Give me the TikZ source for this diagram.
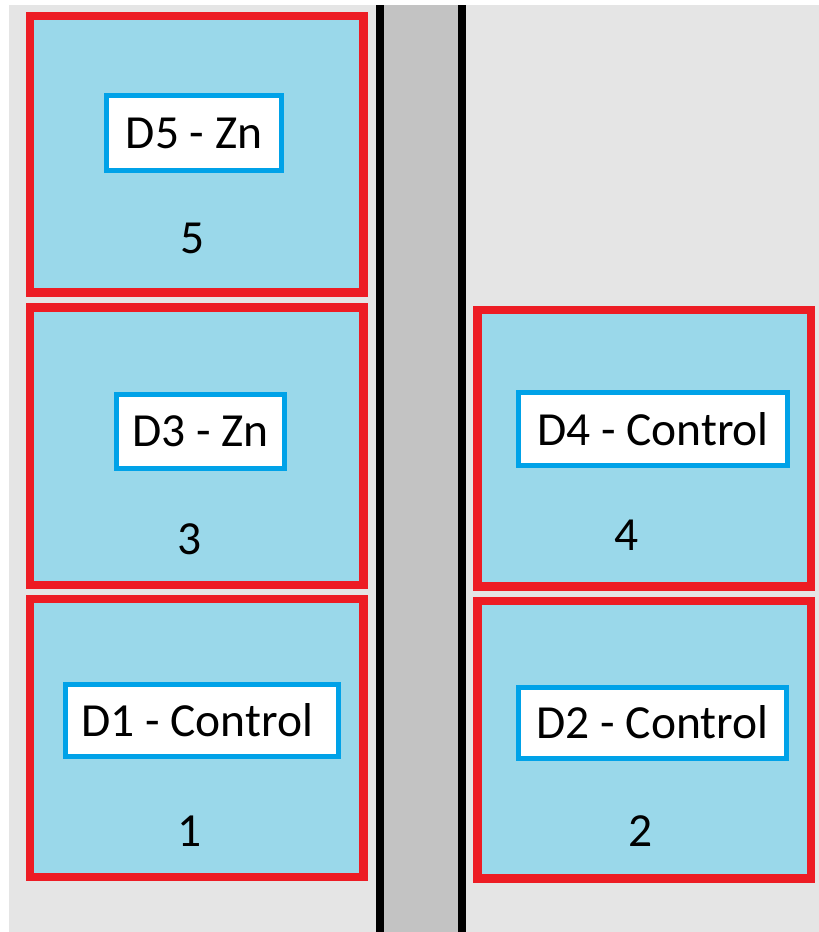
\documentclass[tikz,border=0pt]{standalone}
\usepackage{fontspec}
\setmainfont{Carlito}
\definecolor{bayred}{HTML}{ED1C24}
\definecolor{bayfill}{HTML}{9AD8EA}
\definecolor{tagblue}{HTML}{00A2E8}
\definecolor{floorgray}{HTML}{E5E5E5}
\definecolor{aislegray}{HTML}{C3C3C3}
\tikzset{
  bay/.style={draw=bayred, fill=bayfill, line width=8.5pt, inner sep=0pt, outer sep=0pt},
  tag/.style={draw=tagblue, fill=white, line width=5pt, inner sep=0pt,
    font=\fontsize{47.5}{52}\selectfont, text=black},
  num/.style={inner sep=0pt, font=\fontsize{47.5}{52}\selectfont, text=black},
  wall/.style={line width=8.3pt, draw=black}
}
\begin{document}
\begin{tikzpicture}[x=1pt, y=-1pt]
\useasboundingbox (0,0) rectangle (819,932);
\fill[white] (0,0) rectangle (819,932);
% floor
\fill[floorgray] (9,5) rectangle (819,932);
% aisle between the two walls
\fill[aislegray] (380,5) rectangle (462,932);
\coordinate (w1t) at (380.2,5);
\coordinate (w1b) at (380.2,932);
\coordinate (w2t) at (461.8,5);
\coordinate (w2b) at (461.8,932);
\draw[wall] (w1t) -- (w1b);
\draw[wall] (w2t) -- (w2b);
% bays
\node[bay, minimum width=333.7pt, minimum height=276.6pt] (b5) at (196.65,154.2) {};
\node[bay, minimum width=333.7pt, minimum height=277.3pt] (b3) at (196.65,446.15) {};
\node[bay, minimum width=333.7pt, minimum height=277.6pt] (b1) at (196.65,738) {};
\node[bay, minimum width=333.3pt, minimum height=276.6pt] (b4) at (644.15,448.2) {};
\node[bay, minimum width=333.3pt, minimum height=277.7pt] (b2) at (644.15,739.65) {};
% tags
\node[tag, minimum width=175.3pt, minimum height=74.4pt] (t5) at (194.15,133) {D5 - Zn};
\node[tag, minimum width=168.3pt, minimum height=74pt] (t3) at (200.65,431.2) {D3 - Zn};
\node[tag, minimum width=272.7pt, minimum height=72pt] (t1) at (202.15,720.5) {\hspace*{-10pt}D1 - Control};
\node[tag, minimum width=269pt, minimum height=73pt] (t4) at (653,429) {D4 - Control};
\node[tag, minimum width=268pt, minimum height=71pt] (t2) at (652.5,722.5) {D2 - Control};
% bay numbers
\node[num] (n5) at (193,238) {5};
\node[num] (n3) at (190,539) {3};
\node[num] (n1) at (190,831) {1};
\node[num] (n4) at (627,535) {4};
\node[num] (n2) at (641,831) {2};
\end{tikzpicture}
\end{document}
